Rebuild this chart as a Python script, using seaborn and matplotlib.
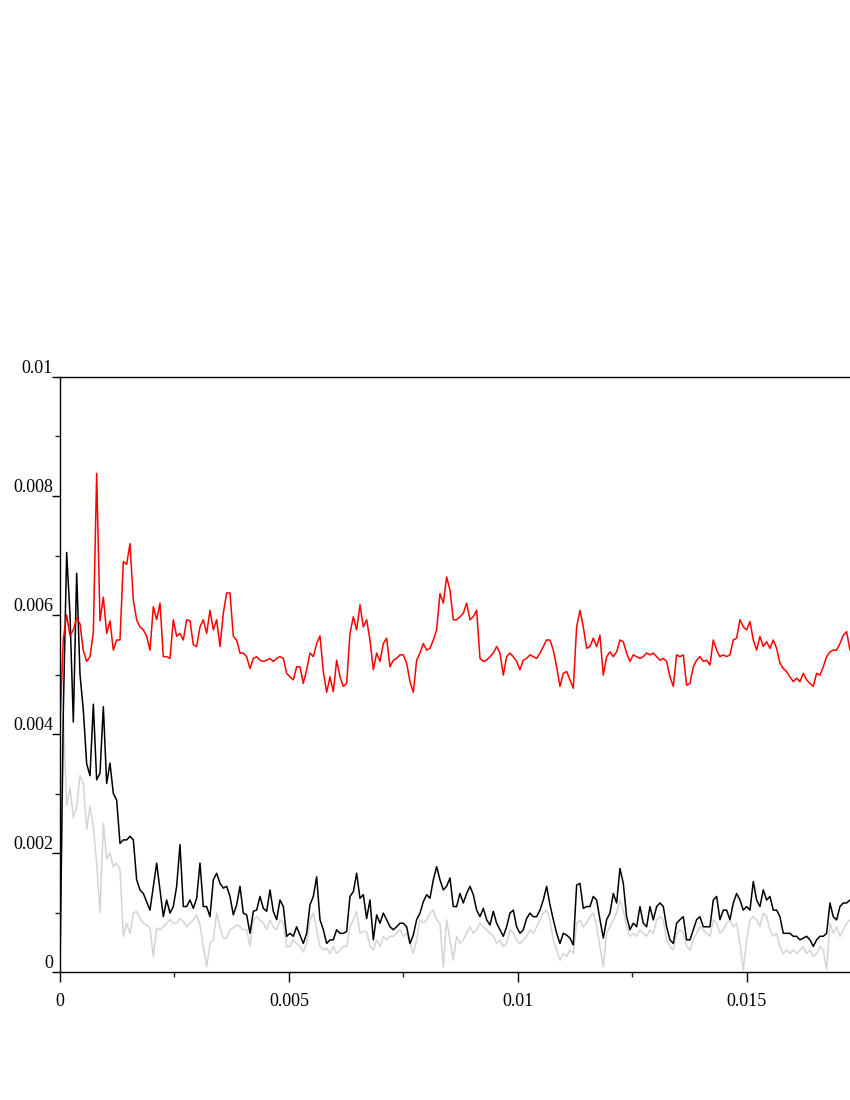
import numpy as np
import pandas as pd
import matplotlib
matplotlib.use("Agg")
import matplotlib.pyplot as plt
import seaborn as sns
from matplotlib.ticker import MultipleLocator

# ---------------- data (values in units of 1e-3) ----------------
sample_interval = 7.278e-5  # seconds between samples

red_vals = [
    4.2, 5.6, 6.0, 5.65, 5.75, 5.95, 5.85, 5.4, 5.22, 5.3,
    5.7, 8.38, 5.9, 6.3, 5.69, 5.9, 5.41, 5.58, 5.58, 6.9,
    6.85, 7.2, 6.25, 5.92, 5.8, 5.75, 5.64, 5.41, 6.14, 5.92,
    6.2, 5.3, 5.3, 5.27, 5.92, 5.64, 5.69, 5.58, 5.92, 5.9,
    5.5, 5.47, 5.8, 5.92, 5.69, 6.08, 5.75, 5.92, 5.47, 6.03,
    6.37, 6.37, 5.64, 5.58, 5.36, 5.36, 5.3, 5.1, 5.27, 5.3,
    5.24, 5.22, 5.24, 5.27, 5.22, 5.27, 5.3, 5.27, 5.02, 4.96,
    4.91, 5.13, 5.13, 4.85, 5.08, 5.36, 5.3, 5.52, 5.65, 5.05,
    4.7, 4.96, 4.71, 5.24, 4.96, 4.8, 4.85, 5.69, 5.97, 5.75,
    6.17, 5.8, 5.92, 5.58, 5.08, 5.36, 5.22, 5.52, 5.61, 5.13,
    5.24, 5.27, 5.33, 5.33, 5.19, 4.88, 4.7, 5.24, 5.36, 5.52,
    5.41, 5.44, 5.58, 5.75, 6.36, 6.2, 6.64, 6.42, 5.92, 5.92,
    5.97, 6.03, 6.2, 5.92, 5.97, 6.08, 5.27, 5.22, 5.24, 5.3,
    5.36, 5.47, 5.36, 4.99, 5.3, 5.36, 5.3, 5.22, 5.08, 5.24,
    5.27, 5.33, 5.3, 5.27, 5.36, 5.47, 5.58, 5.58, 5.41, 5.13,
    4.8, 5.02, 5.05, 4.91, 4.77, 5.8, 6.08, 5.8, 5.44, 5.47,
    5.61, 5.47, 5.66, 4.99, 5.3, 5.38, 5.3, 5.38, 5.58, 5.55,
    5.36, 5.22, 5.33, 5.3, 5.27, 5.3, 5.36, 5.33, 5.36, 5.3,
    5.24, 5.27, 5.22, 4.96, 4.8, 5.33, 5.3, 5.33, 4.82, 4.85,
    5.13, 5.24, 5.3, 5.22, 5.24, 5.16, 5.58, 5.41, 5.3, 5.33,
    5.3, 5.33, 5.58, 5.61, 5.92, 5.8, 5.75, 5.89, 5.58, 5.41,
    5.64, 5.47, 5.55, 5.44, 5.58, 5.44, 5.19, 5.1, 5.05, 4.96,
    4.88, 4.94, 4.88, 5.02, 4.91, 4.85, 4.8, 5.02, 4.99, 5.13,
    5.3, 5.38, 5.41, 5.41, 5.52, 5.66, 5.72, 5.41,
]

black_vals = [
    0.1, 4.4, 7.05, 6.0, 4.2, 6.7, 5.0, 4.4, 3.5, 3.3,
    4.5, 3.23, 3.34, 4.46, 3.17, 3.51, 3.0, 2.89, 2.16, 2.22,
    2.22, 2.28, 2.22, 1.55, 1.38, 1.32, 1.18, 1.04, 1.44, 1.83,
    1.38, 0.93, 1.21, 0.99, 1.1, 1.44, 2.14, 1.1, 1.1, 1.21,
    1.07, 1.24, 1.83, 1.1, 1.1, 0.93, 1.55, 1.66, 1.49, 1.41,
    1.44, 1.27, 0.96, 1.13, 1.44, 0.99, 0.96, 0.65, 1.02, 1.04,
    1.27, 1.07, 1.02, 1.38, 1.02, 0.88, 1.21, 1.1, 0.6, 0.65,
    0.6, 0.76, 0.62, 0.48, 0.65, 1.13, 1.27, 1.6, 0.88, 0.71,
    0.48, 0.54, 0.54, 0.71, 0.65, 0.65, 0.68, 1.27, 1.35, 1.66,
    1.24, 1.3, 0.9, 1.21, 0.54, 0.96, 0.82, 0.99, 0.88, 0.76,
    0.71, 0.76, 0.82, 0.82, 0.76, 0.48, 0.62, 0.88, 0.99, 1.18,
    1.3, 1.24, 1.55, 1.77, 1.55, 1.38, 1.44, 1.58, 1.1, 1.1,
    1.32, 1.16, 1.32, 1.44, 1.3, 1.04, 0.93, 1.07, 0.88, 0.79,
    1.02, 0.82, 0.71, 0.6, 0.76, 0.99, 1.04, 0.76, 0.65, 0.71,
    0.9, 0.99, 0.93, 0.93, 1.04, 1.21, 1.44, 1.13, 0.88, 0.65,
    0.48, 0.65, 0.62, 0.57, 0.455, 1.46, 1.49, 1.07, 1.1, 1.1,
    1.27, 1.21, 0.88, 0.57, 0.88, 0.99, 1.32, 1.16, 1.74, 1.49,
    0.93, 0.71, 0.82, 0.76, 1.1, 0.82, 0.76, 1.1, 0.875, 1.1,
    1.16, 1.1, 0.76, 0.54, 0.48, 0.82, 0.88, 0.93, 0.54, 0.54,
    0.71, 0.88, 0.93, 0.76, 0.76, 0.76, 1.21, 1.27, 0.88, 1.04,
    1.04, 0.88, 1.16, 1.32, 1.21, 1.04, 1.1, 1.04, 1.52, 1.21,
    1.1, 1.38, 1.21, 1.27, 1.04, 1.04, 0.93, 0.65, 0.65, 0.65,
    0.6, 0.6, 0.54, 0.57, 0.6, 0.54, 0.43, 0.54, 0.6, 0.6,
    0.65, 1.16, 0.93, 0.875, 1.1, 1.16, 1.16, 1.21,
]

gray_vals = [
    0.1, 4.3, 2.8, 3.1, 2.6, 2.78, 3.3, 3.17, 2.4, 2.78,
    2.44, 1.83, 1.0, 2.5, 1.9, 2.0, 1.77, 1.83, 1.72, 0.6,
    0.82, 0.65, 0.99, 1.02, 0.9, 0.82, 0.79, 0.74, 0.26, 0.74,
    0.71, 0.76, 0.82, 0.88, 0.82, 0.82, 0.9, 0.85, 0.76, 0.82,
    0.88, 0.96, 0.79, 0.43, 0.09, 0.48, 0.54, 0.99, 0.76, 0.57,
    0.57, 0.71, 0.74, 0.79, 0.76, 0.71, 0.71, 0.43, 0.875, 0.93,
    0.875, 0.82, 0.71, 0.875, 0.76, 0.71, 0.875, 0.82, 0.43, 0.43,
    0.54, 0.48, 0.43, 0.34, 0.48, 0.875, 0.99, 0.71, 0.43, 0.37,
    0.4, 0.31, 0.43, 0.31, 0.37, 0.43, 0.43, 0.76, 0.875, 1.02,
    0.65, 0.68, 0.68, 0.43, 0.37, 0.54, 0.43, 0.6, 0.54, 0.6,
    0.6, 0.65, 0.71, 0.6, 0.65, 0.48, 0.31, 0.54, 0.875, 0.82,
    0.875, 0.99, 1.04, 0.875, 0.82, 0.09, 0.875, 0.54, 0.2, 0.6,
    0.48, 0.54, 0.65, 0.76, 0.65, 0.71, 0.82, 0.76, 0.71, 0.65,
    0.6, 0.48, 0.54, 0.43, 0.48, 0.71, 0.65, 0.54, 0.48, 0.54,
    0.6, 0.71, 0.65, 0.76, 0.875, 0.99, 1.04, 0.875, 0.54, 0.37,
    0.2, 0.31, 0.26, 0.37, 0.31, 0.82, 0.875, 0.76, 0.82, 0.93,
    0.99, 0.76, 0.43, 0.09, 0.65, 0.76, 0.875, 0.99, 1.21, 1.04,
    0.76, 0.6, 0.65, 0.6, 0.71, 0.65, 0.6, 0.71, 0.65, 0.875,
    0.93, 0.875, 0.54, 0.43, 0.37, 0.65, 0.71, 0.65, 0.43, 0.37,
    0.54, 0.65, 0.76, 0.71, 0.65, 0.6, 0.875, 0.82, 0.65, 0.71,
    0.82, 0.875, 0.76, 0.82, 0.48, 0.035, 0.54, 0.875, 0.93, 0.875,
    0.76, 0.99, 0.93, 0.71, 0.6, 0.65, 0.43, 0.31, 0.37, 0.31,
    0.37, 0.31, 0.37, 0.43, 0.31, 0.37, 0.26, 0.31, 0.43, 0.37,
    0.035, 0.82, 0.65, 0.76, 0.6, 0.71, 0.82, 0.875,
]

x_ticks = [0, 0.005, 0.01, 0.015]
x_tick_labels = ["0", "0.005", "0.01", "0.015"]
y_ticks = [0, 0.002, 0.004, 0.006, 0.008, 0.01]
y_tick_labels = ["0", "0.002", "0.004", "0.006", "0.008", "0.01"]

# ---------------- plotting ----------------
sns.set_style("white")
plt.rcParams["font.family"] = ["Liberation Serif", "DejaVu Serif"]

fig = plt.figure(figsize=(8.5, 11), dpi=100)
ax = fig.add_axes([60 / 850, 128 / 1100, 790 / 850, 595 / 1100])


def series_frame(vals):
    t = np.arange(len(vals)) * sample_interval
    return pd.DataFrame({"t": t, "v": np.asarray(vals) * 1e-3})


for vals, col in [(gray_vals, "#d4d4d4"), (black_vals, "black"), (red_vals, "#ff0000")]:
    df = series_frame(vals)
    sns.lineplot(data=df, x="t", y="v", color=col, linewidth=1.1,
                 estimator=None, ax=ax)

ax.set_xlim(0, 0.01725)
ax.set_ylim(0, 0.01)
ax.set_xlabel("")
ax.set_ylabel("")

ax.set_xticks(x_ticks)
ax.set_xticklabels(x_tick_labels)
ax.xaxis.set_minor_locator(MultipleLocator(0.0025))
ax.set_yticks(y_ticks)
ax.set_yticklabels(y_tick_labels)
ax.yaxis.set_minor_locator(MultipleLocator(0.001))

ax.tick_params(axis="x", which="major", direction="out", length=7, width=1,
               pad=8, labelsize=13, colors="black", bottom=True)
ax.tick_params(axis="x", which="minor", direction="out", length=3.5, width=1,
               bottom=True)
ax.tick_params(axis="y", which="major", direction="out", length=6, width=1,
               pad=-1, labelsize=13, colors="black", left=True)
ax.tick_params(axis="y", which="minor", direction="out", length=3.5, width=1,
               left=True)
for lbl in ax.get_yticklabels():
    lbl.set_verticalalignment("bottom")

for side in ["left", "bottom", "top"]:
    ax.spines[side].set_visible(True)
    ax.spines[side].set_color("black")
    ax.spines[side].set_linewidth(1.0)
ax.spines["right"].set_visible(False)

fig.savefig("out.png", dpi=100, facecolor="white")
